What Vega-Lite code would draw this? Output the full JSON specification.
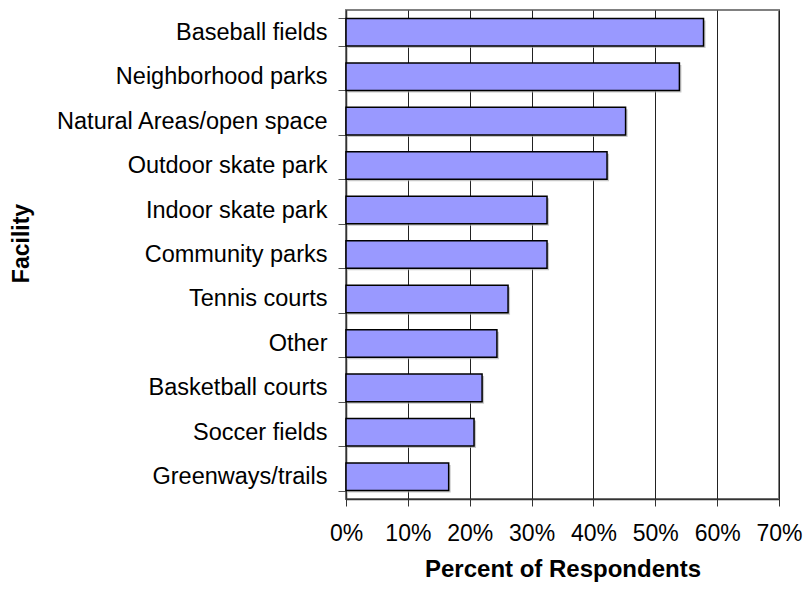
{
  "$schema": "https://vega.github.io/schema/vega-lite/v6.json",
  "autosize": "none",
  "width": 433,
  "height": 489,
  "padding": {"left": 346, "top": 10, "right": 25, "bottom": 93},
  "background": "white",
  "config": {
    "font": "Liberation Sans",
    "view": {"stroke": "#808080", "strokeWidth": 2},
    "axis": {"labelFont": "Liberation Sans", "titleFont": "Liberation Sans"}
  },
  "data": {
    "values": [
      {"facility": "Baseball fields", "pct": 0.578},
      {"facility": "Neighborhood parks", "pct": 0.539},
      {"facility": "Natural Areas/open space", "pct": 0.452},
      {"facility": "Outdoor skate park", "pct": 0.422},
      {"facility": "Indoor skate park", "pct": 0.325},
      {"facility": "Community parks", "pct": 0.325},
      {"facility": "Tennis courts", "pct": 0.262},
      {"facility": "Other", "pct": 0.244},
      {"facility": "Basketball courts", "pct": 0.220},
      {"facility": "Soccer fields", "pct": 0.207},
      {"facility": "Greenways/trails", "pct": 0.166}
    ]
  },
  "encoding": {
    "y": {
      "field": "facility",
      "type": "nominal",
      "sort": null,
      "scale": {"paddingInner": 0.38, "paddingOuter": 0.19},
      "axis": {
        "title": "Facility",
        "titleFontSize": 23,
        "titleFontWeight": "bold",
        "titleColor": "black",
        "titleX": -318,
        "titleY": 233,
        "titleAngle": -90,
        "titleBaseline": "alphabetic",
        "labelFontSize": 23.5,
        "labelLimit": 400,
        "labelColor": "black",
        "labelPadding": 11,
        "tickSize": 8,
        "tickColor": "#555",
        "tickBand": "extent",
        "domainColor": "#333",
        "domainWidth": 1.5,
        "grid": false
      }
    },
    "x": {
      "field": "pct",
      "type": "quantitative",
      "scale": {"domain": [0, 0.7], "nice": false},
      "axis": {
        "title": "Percent of Respondents",
        "titleFontSize": 24,
        "titleFontWeight": "bold",
        "titleColor": "black",
        "titleY": 77,
        "titleBaseline": "alphabetic",
        "format": ".0%",
        "values": [0, 0.1, 0.2, 0.3, 0.4, 0.5, 0.6, 0.7],
        "labelFontSize": 23,
        "labelColor": "black",
        "labelPadding": 16,
        "labelFlush": false,
        "tickSize": 7,
        "tickColor": "#333",
        "domainColor": "#333",
        "domainWidth": 1.5,
        "grid": true,
        "gridColor": "#222",
        "gridWidth": 1,
        "gridOpacity": 1
      }
    }
  },
  "layer": [
    {
      "mark": {"type": "bar", "color": "#b0b0b0", "xOffset": 2, "yOffset": 2, "opacity": 0.7}
    },
    {
      "mark": {"type": "bar", "color": "#9999ff", "stroke": "black", "strokeWidth": 1.5}
    }
  ]
}
